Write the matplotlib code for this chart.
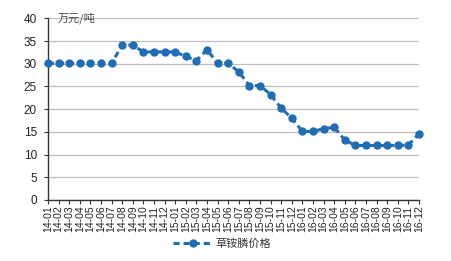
import matplotlib
matplotlib.use("Agg")
import matplotlib.pyplot as plt

plt.rcParams['font.family'] = ['Liberation Sans', 'Noto Sans CJK SC', 'DejaVu Sans']

months = ['14-01','14-02','14-03','14-04','14-05','14-06','14-07','14-08','14-09','14-10','14-11','14-12',
          '15-01','15-02','15-03','15-04','15-05','15-06','15-07','15-08','15-09','15-10','15-11','15-12',
          '16-01','16-02','16-03','16-04','16-05','16-06','16-07','16-08','16-09','16-10','16-11','16-12']
prices = [30.1, 30.1, 30.1, 30.1, 30.1, 30.1, 30.1, 34.1, 34.1, 32.6, 32.6, 32.6,
          32.6, 31.6, 30.7, 33.1, 30.1, 30.1, 28.2, 25.2, 25.2, 23.2, 20.2, 18.0,
          15.1, 15.1, 15.7, 16.0, 13.2, 12.0, 12.0, 12.0, 12.0, 12.0, 12.1, 14.6]
yticks = [0, 5, 10, 15, 20, 25, 30, 35, 40]
series_name = '草铵膦价格'
unit = '万元/吨'

color = '#1F6DB5'

fig = plt.figure(figsize=(4.52, 2.61), dpi=100)
ax = fig.add_axes([48/452, 1 - 200/261, (419-48)/452, (200-18.3)/261])

x = list(range(len(months)))
ax.plot(x, prices, linestyle=(0, (2.0, 1.3)), color=color, linewidth=2.2,
        marker='o', markersize=5, markeredgecolor=color, markerfacecolor=color,
        label=series_name, clip_on=False, zorder=3)

ax.set_xlim(0, len(months) - 1)
ax.set_ylim(0, 40)
ax.set_yticks(yticks)
ax.set_yticklabels([str(v) for v in yticks], fontsize=8.5, color='#222222')
ax.set_xticks(x)
ax.set_xticklabels(months, rotation=90, fontsize=7.5, color='#222222')

ax.yaxis.grid(True, color='#BFBFBF', linewidth=0.9)
ax.set_axisbelow(True)
for s in ['top', 'right']:
    ax.spines[s].set_visible(False)
ax.spines['left'].set_color('#333333')
ax.spines['bottom'].set_color('#333333')
ax.spines['left'].set_linewidth(1.0)
ax.spines['bottom'].set_linewidth(1.0)
ax.tick_params(axis='x', length=3, width=0.8, color='#333333', pad=1)
ax.tick_params(axis='y', length=3, width=0.8, color='#333333', pad=5)

ax.text(0.025, 1.0, unit, transform=ax.transAxes, fontsize=8, color='#444444',
        va='center', ha='left', family=['Noto Sans CJK SC', 'DejaVu Sans'])

leg = fig.legend(loc='center', bbox_to_anchor=(222/452, 1 - 244/261), frameon=False,
                 prop={'family': ['Noto Sans CJK SC', 'DejaVu Sans'], 'size': 8},
                 handlelength=3.5, handletextpad=0.3, markerscale=1.0)
for t in leg.get_texts():
    t.set_color('#333333')

fig.savefig('out.png', dpi=100)
